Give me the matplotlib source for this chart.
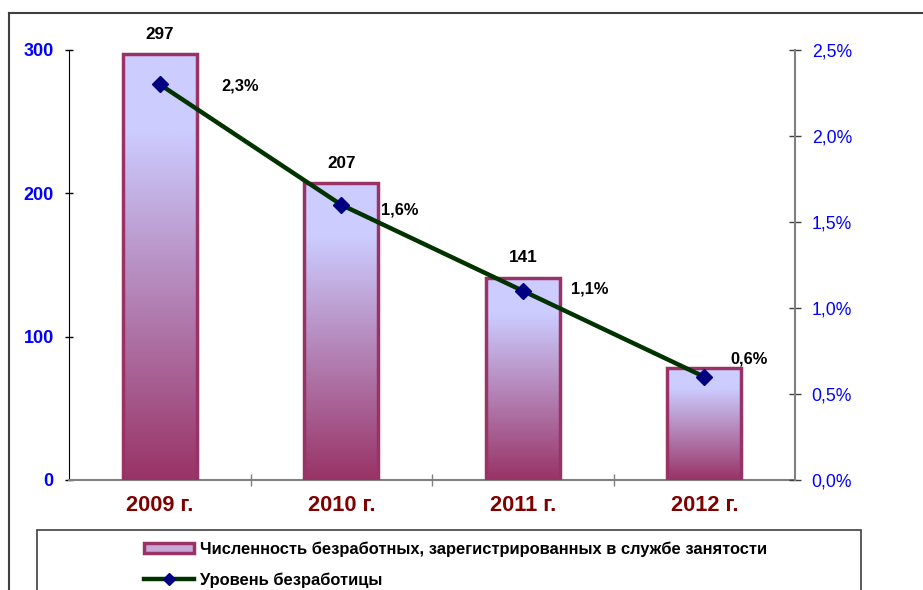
import matplotlib
matplotlib.use('Agg')
import matplotlib.pyplot as plt
import numpy as np
from matplotlib.colors import LinearSegmentedColormap
from matplotlib.patches import Rectangle
from matplotlib.lines import Line2D
from matplotlib.ticker import FuncFormatter

plt.rcParams['font.family'] = ['Liberation Sans', 'DejaVu Sans']

# данные
years = ['2009 г.', '2010 г.', '2011 г.', '2012 г.']
unemployed = [297, 207, 141, 78]
rate = [2.3, 1.6, 1.1, 0.6]
rate_labels = ['2,3%', '1,6%', '1,1%', '0,6%']
bar_labels = ['297', '207', '141', '']
label_bars = 'Численность безработных, зарегистрированных в службе занятости'
label_line = 'Уровень безработицы'

# смещения подписей процентов (в точках)
rate_offsets = [(58, -1), (42, -4), (48, 1), (32, 13)]

W, H = 923, 590
fig = plt.figure(figsize=(W / 100, H / 100), dpi=100)

ax = fig.add_axes([69 / W, 110 / H, (795 - 69) / W, 430 / H])
ax2 = ax.twinx()

x = np.arange(len(years))
bw = 0.41

# градиент для столбиков
cmap = LinearSegmentedColormap.from_list('grad', [(0, '#993366'), (0.82, '#CCCCFF'), (1, '#CCCCFF')])
grad = np.linspace(0, 1, 256).reshape(-1, 1)

bars = ax.bar(x, unemployed, width=bw, facecolor='none', edgecolor='#993366', linewidth=2.5, zorder=3)
for b in bars:
    x0, w, h = b.get_x(), b.get_width(), b.get_height()
    im = ax.imshow(grad, cmap=cmap, origin='lower', aspect='auto',
                   extent=[x0, x0 + w, 0, h], zorder=2)
    clip = Rectangle((x0, 0), w, h, transform=ax.transData)
    im.set_clip_path(clip)

for i, b in enumerate(bars):
    if bar_labels[i]:
        ax.annotate(bar_labels[i], (b.get_x() + b.get_width() / 2, b.get_height()),
                    xytext=(0, 9), textcoords='offset points', ha='center', va='bottom',
                    fontsize=12.3, fontweight='bold', color='black')

ax.set_xlim(-0.5, len(years) - 0.5)
ax.set_ylim(0, 300)
ax.set_yticks([0, 100, 200, 300])
ax.tick_params(axis='y', direction='inout', length=6, width=1, colors='black', pad=8,
               labelsize=13, labelcolor='#0000FF')
for t in ax.get_yticklabels():
    t.set_fontweight('bold')

ax.set_xticks(x)
ax.set_xticklabels(years, fontsize=15.7, fontweight='bold', color='#800000')
ax.set_xticks([0.5, 1.5, 2.5], minor=True)
ax.tick_params(axis='x', which='major', length=0, pad=11)
ax.tick_params(axis='x', which='minor', direction='inout', length=8, width=1, colors='#808080')

ax.spines['top'].set_visible(False)
ax.spines['right'].set_visible(False)
ax.spines['left'].set_color('black')
ax.spines['bottom'].set_color('#808080')
ax.spines['bottom'].set_linewidth(1.5)

# линия уровня безработицы
ax2.plot(x, rate, color='#003300', linewidth=3.2, marker='D', markersize=8,
         markerfacecolor='#000080', markeredgecolor='#000080', zorder=5)
for i in range(len(rate)):
    ax2.annotate(rate_labels[i], (x[i], rate[i]), xytext=rate_offsets[i], textcoords='offset points',
                 ha='center', va='center', fontsize=11.8, fontweight='bold', color='black')

ax2.set_ylim(0, 2.5)
ax2.set_yticks([0, 0.5, 1.0, 1.5, 2.0, 2.5])
ax2.yaxis.set_major_formatter(FuncFormatter(lambda v, p: f'{v:.1f}%'.replace('.', ',')))
ax2.tick_params(axis='y', direction='inout', length=8, width=1, colors='#404040', pad=8,
                labelsize=12.7, labelcolor='#0000FF')
ax2.spines['top'].set_visible(False)
ax2.spines['left'].set_visible(False)
ax2.spines['bottom'].set_visible(False)
ax2.spines['right'].set_color('#808080')
ax2.spines['right'].set_linewidth(1.5)

# рамка области диаграммы
fig.add_artist(Line2D([9 / W, 1], [1 - 13 / H, 1 - 13 / H], color='#404040', linewidth=1.5))
fig.add_artist(Line2D([9 / W, 9 / W], [0, 1 - 13 / H], color='#404040', linewidth=1.5))

# рамка легенды
fig.add_artist(Rectangle((37 / W, -0.1), (861 - 37) / W, 0.1 + (H - 530) / H,
                         transform=fig.transFigure, facecolor='white', edgecolor='#404040', linewidth=1.2))

h1 = Rectangle((0, 0), 1, 1, facecolor='#C8A8D8', edgecolor='#993366', linewidth=2.5)
h2 = Line2D([], [], color='#003300', linewidth=3.2, marker='D', markersize=6,
            markerfacecolor='#000080', markeredgecolor='#000080')
leg = fig.legend([h1, h2], [label_bars, label_line], loc='upper left',
                 bbox_to_anchor=(136 / W, 1 - 533 / H), frameon=False,
                 prop={'size': 11.9, 'weight': 'bold'}, handlelength=3.0, handleheight=0.6,
                 handletextpad=0.35, labelspacing=0.95, borderpad=0)

fig.savefig('out.png', dpi=100)
